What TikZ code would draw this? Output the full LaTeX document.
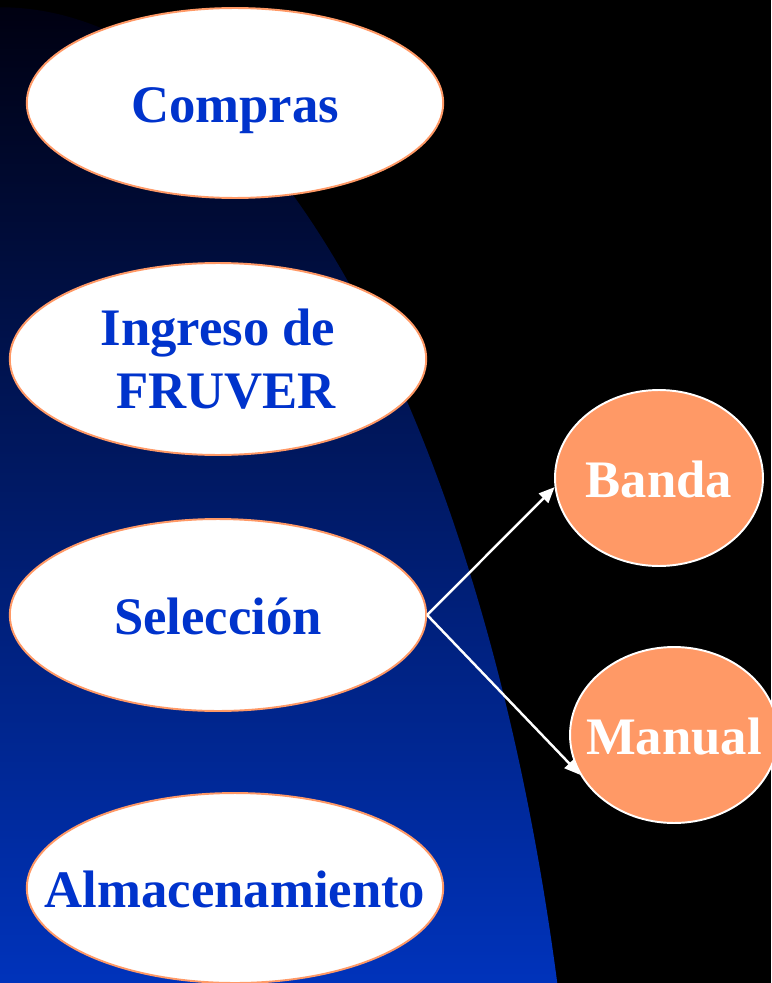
\documentclass[tikz,border=0pt]{standalone}
\usepackage{fontspec}
\setmainfont{Liberation Serif}
\usetikzlibrary{shapes.geometric,arrows.meta}
\definecolor{txtblue}{HTML}{0033CC}
\definecolor{orng}{HTML}{FF9966}
\definecolor{bgtop}{HTML}{000010}
\definecolor{bgmid}{HTML}{00238A}
\definecolor{bgbot}{HTML}{0033BB}
\begin{document}
\begin{tikzpicture}[x=0.02cm,y=-0.02cm,
  font=\fontsize{30}{36}\selectfont\bfseries,
  proc/.style={ellipse, draw=orng, line width=1.1pt, fill=white, text=txtblue,
    inner ysep=0pt, inner xsep=-1.5cm, minimum width=8.33cm, minimum height=3.84cm},
  onel/.style={text height=22.7pt, text depth=0pt},
  opt/.style={ellipse, draw=white, line width=1.1pt, fill=orng, text=white,
    inner ysep=0pt, inner xsep=-1.5cm, minimum width=4.16cm, minimum height=3.52cm},
  arr/.style={draw=white, line width=1.4pt, -{Triangle[length=9pt,width=7.5pt]}}]
\useasboundingbox (0,0) rectangle (771,983);
\fill[black] (0,0) rectangle (771,983);
\begin{scope}
  \clip (0,1400) ellipse [x radius=11.68cm, y radius=27.86cm];
  \shade[top color=bgtop, middle color=bgmid, bottom color=bgbot] (0,0) rectangle (771,983);
\end{scope}
\node[proc, onel, minimum height=3.8cm] (compras) at (235,103) {Compras};
\node[proc, align=center] (ingreso) at (218,359) {Ingreso de\\\hspace*{0.32cm}FRUVER};
\node[proc, onel] (seleccion) at (218,615) {Selección};
\node[proc, onel, minimum height=3.8cm] (almac) at (235,888) {Almacenamiento};
\node[opt, onel] (banda) at (659,478) {Banda};
\node[opt, onel] (manual) at (674,735) {Manual};
\draw[arr] (seleccion.east) -- (banda.185.5);
\draw[arr] (seleccion.east) -- (manual.203);
\end{tikzpicture}
\end{document}
